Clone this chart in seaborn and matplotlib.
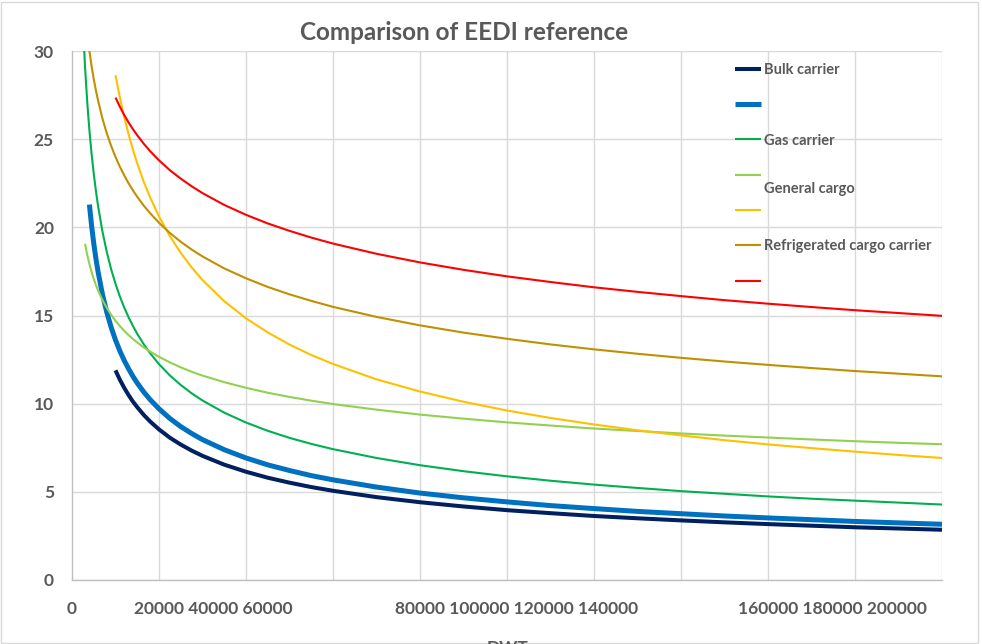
import matplotlib
matplotlib.use("Agg")
import matplotlib.pyplot as plt
from matplotlib.lines import Line2D
from matplotlib.patches import Rectangle
import pandas as pd
import seaborn as sns

# DWT sample points shared by every ship type (each series uses the tail of this grid)
dwt_grid = [2000, 2500, 3000, 3500, 4000, 4500, 5000, 5500, 6000, 7000, 8000, 9000, 10000,
            11000, 12000, 13000, 14000, 15000, 16500, 18000, 20000, 22500, 25000, 27500, 30000,
            35000, 40000, 45000, 50000, 55000, 60000, 70000, 80000, 90000, 100000, 110000,
            120000, 130000, 140000, 150000, 160000, 170000, 180000, 190000, 200000]

# EEDI reference values (gCO2/t·nm) per ship type
bulk_carrier = [11.89, 11.36, 10.90, 10.49, 10.12, 9.80, 9.36, 8.98, 8.54, 8.07, 7.68, 7.34,
                7.04, 6.54, 6.14, 5.80, 5.52, 5.27, 5.06, 4.70, 4.41, 4.17, 3.96, 3.79,
                3.63, 3.50, 3.38, 3.27, 3.17, 3.08, 2.99, 2.92, 2.85]
tanker = [21.29, 20.10, 19.09, 18.22, 17.47, 16.20, 15.18, 14.33, 13.61, 12.99, 12.45, 11.98,
          11.55, 11.17, 10.66, 10.22, 9.71, 9.16, 8.70, 8.31, 7.96, 7.39, 6.92, 6.53,
          6.21, 5.92, 5.68, 5.27, 4.93, 4.66, 4.43, 4.22, 4.05, 3.89, 3.76, 3.63,
          3.52, 3.42, 3.32, 3.24, 3.16]
gas_carrier = [34.99, 31.61, 29.08, 27.11, 25.51, 24.17, 23.04, 22.06, 21.20, 19.76, 18.60, 17.62,
               16.80, 16.08, 15.46, 14.90, 14.41, 13.96, 13.37, 12.85, 12.24, 11.60, 11.06, 10.59,
               10.18, 9.49, 8.93, 8.46, 8.06, 7.72, 7.42, 6.92, 6.51, 6.17, 5.88, 5.63,
               5.41, 5.22, 5.04, 4.89, 4.74, 4.61, 4.50, 4.39, 4.28]
general_cargo = [19.07, 18.44, 17.92, 17.47, 17.07, 16.73, 16.42, 15.88, 15.43, 15.04, 14.70, 14.40,
                 14.13, 13.89, 13.67, 13.47, 13.19, 12.95, 12.66, 12.34, 12.06, 11.81, 11.59, 11.22,
                 10.90, 10.62, 10.38, 10.17, 9.98, 9.66, 9.38, 9.15, 8.94, 8.76, 8.59, 8.45,
                 8.31, 8.19, 8.08, 7.97, 7.87, 7.78, 7.70]
lng_carrier = [28.63, 27.37, 26.26, 25.29, 24.41, 23.63, 22.58, 21.67, 20.62, 19.50, 18.55, 17.73,
               17.01, 15.81, 14.84, 14.04, 13.35, 12.76, 12.25, 11.38, 10.69, 10.11, 9.61, 9.19,
               8.82, 8.49, 8.20, 7.93, 7.69, 7.48, 7.28, 7.09, 6.92]
refrigerated = [32.18, 31.00, 30.00, 29.15, 28.41, 27.76, 27.18, 26.17, 25.33, 24.62, 23.99, 23.44,
                22.95, 22.50, 22.10, 21.73, 21.23, 20.79, 20.26, 19.68, 19.18, 18.74, 18.35, 17.67,
                17.11, 16.62, 16.20, 15.83, 15.49, 14.92, 14.44, 14.03, 13.68, 13.36, 13.08, 12.83,
                12.60, 12.39, 12.20, 12.02, 11.85, 11.70, 11.55]
container = [27.36, 26.84, 26.37, 25.95, 25.57, 25.22, 24.74, 24.31, 23.80, 23.24, 22.76, 22.33,
             21.94, 21.27, 20.71, 20.22, 19.80, 19.42, 19.08, 18.50, 18.01, 17.59, 17.22, 16.90,
             16.60, 16.34, 16.10, 15.87, 15.67, 15.48, 15.30, 15.14, 14.98]

legend_labels = ["Bulk carrier", " ", "Gas carrier", " ", " ", "Refrigerated cargo carrier", " "]
y_ticks = [0, 5, 10, 15, 20, 25, 30]
x_grid = [0, 20000, 40000, 60000, 80000, 100000, 120000, 140000, 160000, 180000, 200000]
x_tick_pos = [0, 32600, 102100, 174900]
x_tick_labels = ["0", "20000 40000 60000", "80000 100000 120000 140000", "160000 180000 200000"]

series = [
    (bulk_carrier, "#002060", 2.9),
    (tanker, "#0070C0", 3.6),
    (gas_carrier, "#00B050", 1.5),
    (general_cargo, "#92D050", 1.5),
    (lng_carrier, "#FFC000", 1.5),
    (refrigerated, "#BF9000", 1.5),
    (container, "#FF0000", 1.5),
]

sns.set_theme(style="white")
plt.rcParams["font.family"] = ["Lato", "DejaVu Sans"]
TEXT = "#595959"
GRID = "#d9d9d9"

fig = plt.figure(figsize=(9.82, 6.44), dpi=100)
ax = fig.add_axes([72 / 982, 1 - 580 / 644, 870 / 982, 529 / 644])

handles = []
for values, color, lw in series:
    df = pd.DataFrame({"DWT": dwt_grid[len(dwt_grid) - len(values):], "EEDI": values})
    sns.lineplot(data=df, x="DWT", y="EEDI", ax=ax, color=color, linewidth=lw,
                 solid_capstyle="butt", solid_joinstyle="round", sort=False, legend=False)
    handles.append(Line2D([], [], color=color, linewidth=lw, solid_capstyle="butt"))

ax.set_xlim(0, 200000)
ax.set_ylim(0, 30)
ax.set_xlabel("")
ax.set_ylabel("")

ax.set_yticks(y_ticks)
ax.set_yticklabels([str(v) for v in y_ticks])
ax.set_xticks(x_grid, minor=True)
ax.set_xticks(x_tick_pos)
ax.set_xticklabels(x_tick_labels)

ax.grid(False)
ax.grid(True, axis="y", which="major", color=GRID, linewidth=1.0)
ax.grid(True, axis="x", which="minor", color=GRID, linewidth=1.0)
ax.tick_params(axis="both", which="both", length=0)
ax.tick_params(axis="y", pad=13, labelsize=12.5, labelcolor=TEXT)
ax.tick_params(axis="x", pad=15, labelsize=12.5, labelcolor=TEXT)
for lab in ax.get_xticklabels() + ax.get_yticklabels():
    lab.set_fontweight("bold")

for side in ("top", "right"):
    ax.spines[side].set_visible(False)
for side in ("left", "bottom"):
    ax.spines[side].set_color("#bfbfbf")
    ax.spines[side].set_linewidth(1.0)

leg = ax.legend(handles, legend_labels, loc="upper left",
                bbox_to_anchor=(735 / 982, 1 - 63 / 644), bbox_transform=fig.transFigure,
                frameon=False, borderpad=0, borderaxespad=0, handlelength=1.8,
                handletextpad=0.2, labelspacing=1.46, fontsize=10.5)
for t in leg.get_texts():
    t.set_color(TEXT)
    t.set_fontweight("bold")

fig.text(764 / 982, 1 - 189 / 644, "General cargo", fontsize=10.5, fontweight="bold",
         color=TEXT, va="center", ha="left")

fig.text(464.5 / 982, 1 - 32 / 644, "Comparison of EEDI reference", fontsize=17.5,
         fontweight="bold", color=TEXT, ha="center", va="center")
fig.text(507 / 982, 4 / 644, "DWT", fontsize=12.5, fontweight="bold", color=TEXT,
         ha="center", va="top")

fig.patches.append(Rectangle((0.5 / 982, 1 / 644), 977 / 982, 641.5 / 644,
                             transform=fig.transFigure, fill=False,
                             edgecolor=GRID, linewidth=1.0))

fig.savefig("out.png", dpi=100)
